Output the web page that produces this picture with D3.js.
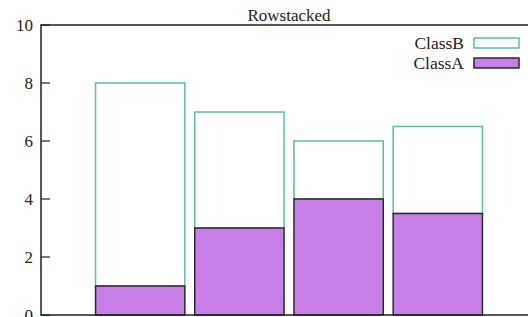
<!DOCTYPE html>
<html>
<head>
<meta charset="utf-8">
<script src="https://cdn.jsdelivr.net/npm/d3@7"></script>
<style>
	body { margin: 0; background: #fff; }
	text { font-family: "Liberation Serif", "DejaVu Serif", serif; fill: #222; }
</style>
</head>
<body>
<div id="main_node"></div>
<script>
var categories = [0, 1, 2, 3];
var classA = [1, 3, 4, 3.5];
var classB = [7, 4, 2, 3];
var yTicks = [0, 2, 4, 6, 8, 10];

var width = 528,
	height = 317;
var plotLeft = 41,
	plotTop = 25,
	plotRight = 537,
	plotBottom = 315;

var svg = d3
	.select("#main_node")
	.append("svg")
	.attr("width", width)
	.attr("height", height);

var x = d3.scaleLinear().domain([-1, 4]).range([plotLeft, plotRight]);
var y = d3.scaleLinear().domain([0, 10]).range([plotBottom, plotTop]);
var barW = 0.9;

// stacked rows
var stackData = categories.map(function (c, i) {
	return { cat: c, a: classA[i], b: classB[i] };
});
var series = d3.stack().keys(["a", "b"])(stackData);

var fills = { a: "#c880e8", b: "#ffffff" };
var strokes = { a: "#2a2a2a", b: "#5cbf9d" };

// draw ClassB first so ClassA border sits on top
[series[1], series[0]].forEach(function (s) {
	svg
		.append("g")
		.selectAll("rect")
		.data(s)
		.enter()
		.append("rect")
		.attr("x", function (d) {
			return x(d.data.cat - barW / 2);
		})
		.attr("width", function (d) {
			return x(d.data.cat + barW / 2) - x(d.data.cat - barW / 2);
		})
		.attr("y", function (d) {
			return y(d[1]);
		})
		.attr("height", function (d) {
			return y(d[0]) - y(d[1]);
		})
		.attr("fill", fills[s.key])
		.attr("stroke", strokes[s.key])
		.attr("stroke-width", 1.5);
});

// border (top + left + bottom)
svg
	.append("path")
	.attr("d", "M" + plotRight + "," + plotTop + "H" + plotLeft + "V" + plotBottom + "H" + plotRight)
	.attr("fill", "none")
	.attr("stroke", "#222")
	.attr("stroke-width", 1.5);

// y axis ticks, gnuplot style (inward)
var yAxis = svg.append("g");
yAxis
	.selectAll("line")
	.data(yTicks)
	.enter()
	.append("line")
	.attr("x1", plotLeft)
	.attr("x2", plotLeft + 9)
	.attr("y1", function (d) {
		return y(d);
	})
	.attr("y2", function (d) {
		return y(d);
	})
	.attr("stroke", "#222")
	.attr("stroke-width", 1.2);
yAxis
	.selectAll("text")
	.data(yTicks)
	.enter()
	.append("text")
	.attr("x", plotLeft - 8)
	.attr("y", function (d) {
		return y(d);
	})
	.attr("dy", "0.35em")
	.attr("text-anchor", "end")
	.attr("font-size", 17)
	.text(function (d) {
		return d;
	});

// title
svg
	.append("text")
	.attr("x", (plotLeft + plotRight) / 2)
	.attr("y", 21)
	.attr("text-anchor", "middle")
	.attr("font-size", 17)
	.text("Rowstacked");

// legend
var legend = [
	{ name: "ClassB", key: "b" },
	{ name: "ClassA", key: "a" },
];
var lg = svg
	.selectAll(".legend")
	.data(legend)
	.enter()
	.append("g")
	.attr("transform", function (d, i) {
		return "translate(0," + (43 + i * 20) + ")";
	});
lg.append("rect")
	.attr("x", 474)
	.attr("y", -5)
	.attr("width", 45)
	.attr("height", 10)
	.attr("fill", function (d) {
		return fills[d.key];
	})
	.attr("stroke", function (d) {
		return strokes[d.key];
	})
	.attr("stroke-width", 1.5);
lg.append("text")
	.attr("x", 464)
	.attr("dy", "0.35em")
	.attr("text-anchor", "end")
	.attr("font-size", 17.5)
	.text(function (d) {
		return d.name;
	});
</script>
</body>
</html>
